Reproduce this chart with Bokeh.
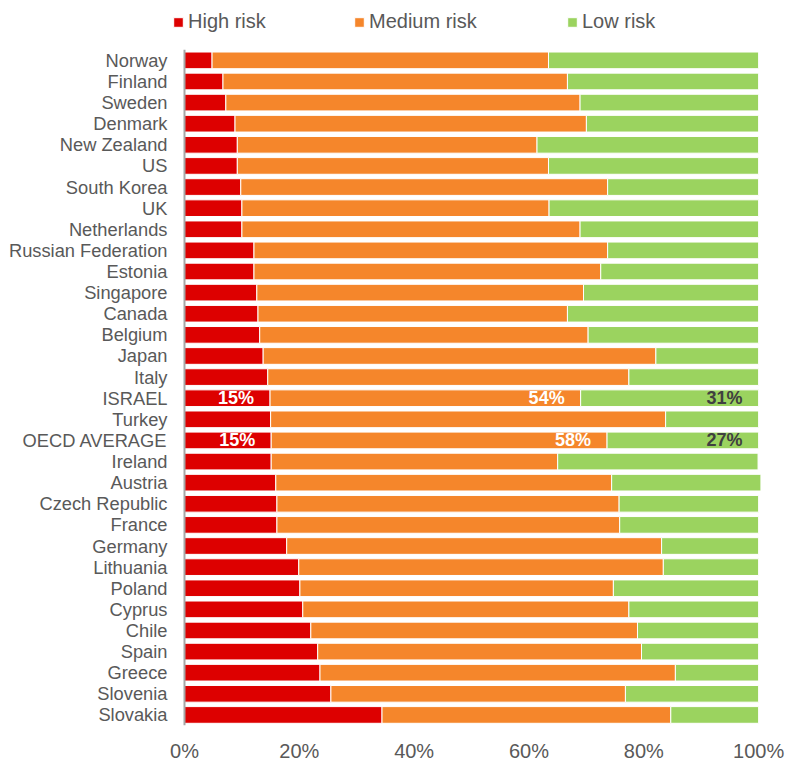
from bokeh.plotting import figure
from bokeh.models import (ColumnDataSource, Range1d, FixedTicker,
                          PrintfTickFormatter, Legend, LegendItem)
from bokeh.core.properties import value
from bokeh.embed import file_html
from bokeh.resources import INLINE

countries = ["Norway", "Finland", "Sweden", "Denmark", "New Zealand", "US",
             "South Korea", "UK", "Netherlands", "Russian Federation", "Estonia",
             "Singapore", "Canada", "Belgium", "Japan", "Italy", "ISRAEL", "Turkey",
             "OECD AVERAGE", "Ireland", "Austria", "Czech Republic", "France",
             "Germany", "Lithuania", "Poland", "Cyprus", "Chile", "Spain", "Greece",
             "Slovenia", "Slovakia"]
high = [4.8, 6.7, 7.2, 8.8, 9.2, 9.2, 9.8, 10.0, 10.0, 12.1, 12.1, 12.6, 12.8,
        13.1, 13.7, 14.5, 14.9, 15.0, 15.1, 15.1, 15.9, 16.1, 16.1, 17.8, 19.9,
        20.1, 20.6, 22.0, 23.2, 23.6, 25.5, 34.4]
medium = [58.6, 60.0, 61.7, 61.2, 52.2, 54.2, 63.9, 53.5, 58.9, 61.6, 60.4, 56.9,
          53.9, 57.2, 68.4, 62.9, 54.1, 68.8, 58.5, 49.9, 58.5, 59.6, 59.7, 65.3,
          63.5, 54.6, 56.8, 56.9, 56.4, 61.9, 51.3, 50.3]
low = [36.6, 33.3, 31.1, 30.0, 38.6, 36.6, 26.3, 36.5, 31.1, 26.3, 27.5, 30.5,
       33.3, 29.7, 17.9, 22.6, 31.0, 16.2, 26.4, 34.9, 26.0, 24.3, 24.2, 16.9,
       16.6, 25.3, 22.6, 21.1, 20.4, 14.5, 23.2, 15.3]
series = ["High risk", "Medium risk", "Low risk"]
colors = ["#DD0000", "#F5862B", "#9BD35F"]
x_ticks = [0, 20, 40, 60, 80, 100]

# data labels shown in the chart
label_rows = ["ISRAEL", "OECD AVERAGE"]
label_texts = {"ISRAEL": ["15%", "54%", "31%"], "OECD AVERAGE": ["15%", "58%", "27%"]}
label_colors = ["#FFFFFF", "#FFFFFF", "#404040"]

TEXT_GRAY = "#595959"
FONT = "Liberation Sans"

n = len(countries)
ypos = [n - 1 - i for i in range(n)]   # Norway on top, Slovakia at bottom

src = ColumnDataSource(dict(y=ypos, country=countries, high=high, medium=medium, low=low))

# layout: frame spans whole height above the x axis; legend sits in the top band
p = figure(width=786, height=764, output_backend="svg", toolbar_location=None,
           x_range=Range1d(-14 / 5.74, 100.5),
           y_range=Range1d(-0.5, n - 0.5 + 2.335),
           min_border_left=170, min_border_right=25, min_border_top=0,
           min_border_bottom=38)
p.outline_line_color = None
p.xgrid.visible = False
p.ygrid.visible = False

rs = p.hbar_stack(["high", "medium", "low"], y="y", height=0.79, color=colors,
                  line_color="white", line_width=1, source=src)

# vertical category axis line at 0%
p.segment(x0=[0], y0=[-0.5], x1=[0], y1=[n - 0.5], line_color="#A6A6A6", line_width=2)

# data labels
lx, ly, lt, lc = [], [], [], []
for row in label_rows:
    i = countries.index(row)
    ends = [high[i], high[i] + medium[i], high[i] + medium[i] + low[i]]
    for k in range(3):
        lx.append(ends[k]); ly.append(ypos[i]); lt.append(label_texts[row][k]); lc.append(label_colors[k])
p.text(x=lx, y=ly, text=lt, text_color=lc, text_align="right", text_baseline="middle",
       x_offset=-16, text_font_size="18px", text_font_style="bold",
       text_font=value(FONT))

xa = p.xaxis[0]
xa.ticker = FixedTicker(ticks=x_ticks)
xa.formatter = PrintfTickFormatter(format="%d%%")
xa.axis_line_color = None
xa.major_tick_line_color = None
xa.minor_tick_line_color = None
xa.major_label_standoff = 8
xa.major_label_text_font_size = "20px"
xa.major_label_text_font = FONT
xa.major_label_text_color = TEXT_GRAY

ya = p.yaxis[0]
ya.ticker = FixedTicker(ticks=ypos)
ya.major_label_overrides = {y: c for y, c in zip(ypos, countries)}
ya.axis_line_color = None
ya.major_tick_line_color = None
ya.major_tick_out = 0
ya.minor_tick_line_color = None
ya.major_label_standoff = 3
ya.major_label_text_font_size = "18.3px"
ya.major_label_text_font = FONT
ya.major_label_text_color = TEXT_GRAY

legend_x = [2, 183, 396]
for r, name, lx0 in zip(rs, series, legend_x):
    leg = Legend(items=[LegendItem(label=name, renderers=[r])], location=(lx0, 692),
                 orientation="horizontal", glyph_width=12, glyph_height=12,
                 label_standoff=4, padding=0, margin=0, spacing=0,
                 border_line_color=None, background_fill_alpha=0,
                 label_text_font_size="20px", label_text_font=FONT,
                 label_text_color=TEXT_GRAY, label_height=20)
    p.add_layout(leg)

open("out.html", "w").write(file_html(p, INLINE))
